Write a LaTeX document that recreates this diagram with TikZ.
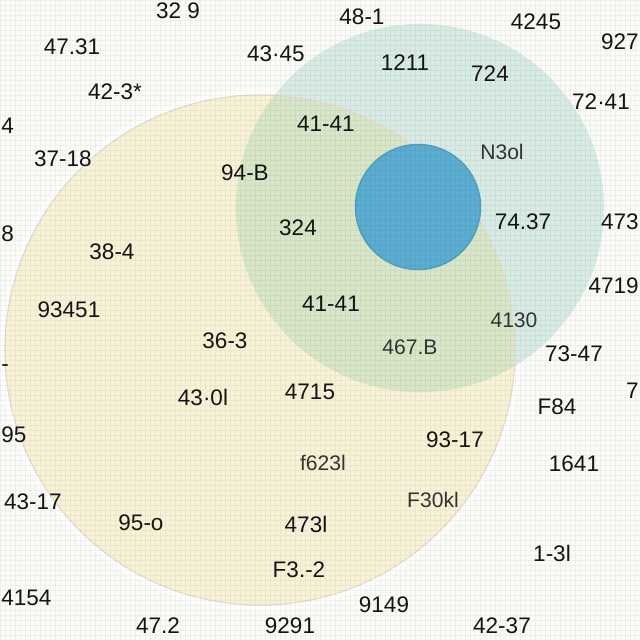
\documentclass[tikz,border=0pt]{standalone}
\usepackage{fontspec}
\setmainfont{Liberation Sans}
\definecolor{paper}{HTML}{FBFCF7}
\definecolor{cream}{HTML}{F8F3D7}
\definecolor{mint}{HTML}{D8EBE5}
\definecolor{sage}{HTML}{D8E7C8}
\definecolor{sky}{HTML}{5BAED1}
\definecolor{rim}{HTML}{EBD9CD}
\tikzstyle{num}=[font=\fontsize{16}{16}\selectfont,text=black!92,inner sep=0pt]
\tikzstyle{faint}=[num,font=\fontsize{15}{15}\selectfont,text=black!80]

\begin{document}
\begin{tikzpicture}[x=0.025cm,y=-0.025cm]
  \useasboundingbox (0,0) rectangle (640,640);
  \fill[paper] (0,0) rectangle (640,640);
  % circles
  \coordinate (big) at (260,350);
  \coordinate (ring) at (420,208);
  \coordinate (core) at (418,207);
  \draw[white,line width=6pt] (big) circle[radius=6.42cm];
  \fill[cream] (big) circle[radius=6.375cm];
  \fill[mint] (ring) circle[radius=4.6cm];
  \begin{scope}
    \clip (big) circle[radius=6.375cm];
    \fill[sage] (ring) circle[radius=4.6cm];
  \end{scope}
  \draw[rim,line width=0.8pt] (big) circle[radius=6.375cm];
  \fill[sky] (core) circle[radius=1.58cm];
  \draw[black!40!sky,opacity=.2,line width=1pt] (core) circle[radius=1.56cm];
  % faint grid
  \draw[black,opacity=.05,line width=.2pt] (0,0) grid[step=0.125cm] (640,640);
  % labels
  \node[num] (t1) at (178,11) {32 9};
  \node[num] (t2) at (72,47) {47.31};
  \node[num] (t3) at (276,54) {43·45};
  \node[num] (t4) at (362,17) {48-1};
  \node[num] (t5) at (536,22) {4245};
  \node[num,anchor=east] (t6) at (639,42) {927};
  \node[num] (t7) at (115,92) {42-3*};
  \node[num] (t8) at (405,63) {1211};
  \node[num] (t9) at (490,74) {724};
  \node[num] (t10) at (601,102) {72·41};
  \node[num,anchor=west] (t11) at (1,126) {4};
  \node[num] (t12) at (326,124) {41-41};
  \node[faint] (t13) at (502,152) {N3ol};
  \node[num] (t14) at (63,159) {37-18};
  \node[num] (t15) at (245,173) {94-B};
  \node[num] (t16) at (298,228) {324};
  \node[num] (t17) at (523,222) {74.37};
  \node[num,anchor=east] (t18) at (639,222) {473};
  \node[num,anchor=west] (t19) at (1,234) {8};
  \node[num] (t20) at (112,252) {38-4};
  \node[num,anchor=east] (t21) at (639,286) {4719};
  \node[num] (t22) at (331,304) {41-41};
  \node[num] (t23) at (69,310) {93451};
  \node[faint] (t24) at (514,320) {4130};
  \node[num] (t25) at (225,341) {36-3};
  \node[faint] (t26) at (410,347) {467.B};
  \node[num] (t27) at (574,354) {73-47};
  \node[num,anchor=west] (t28) at (1,368) {-};
  \node[num,anchor=east] (t29) at (639,391) {7};
  \node[num] (t30) at (310,392) {4715};
  \node[num] (t31) at (203,397) {43·0l};
  \node[num] (t32) at (557,407) {F84};
  \node[num,anchor=west] (t33) at (1,435) {95};
  \node[num] (t34) at (455,440) {93-17};
  \node[faint] (t35) at (323,463) {f623l};
  \node[num] (t36) at (574,464) {1641};
  \node[faint] (t37) at (433,500) {F30kl};
  \node[num] (t38) at (33,502) {43-17};
  \node[num] (t39) at (141,523) {95-o};
  \node[num] (t40) at (306,524) {473l};
  \node[num] (t41) at (552,553) {1-3l};
  \node[num] (t42) at (299,570) {F3.-2};
  \node[num,anchor=west] (t43) at (1,598) {4154};
  \node[num] (t44) at (384,605) {9149};
  \node[num] (t45) at (158,626) {47.2};
  \node[num] (t46) at (290,626) {9291};
  \node[num] (t47) at (502,626) {42-37};
\end{tikzpicture}
\end{document}
